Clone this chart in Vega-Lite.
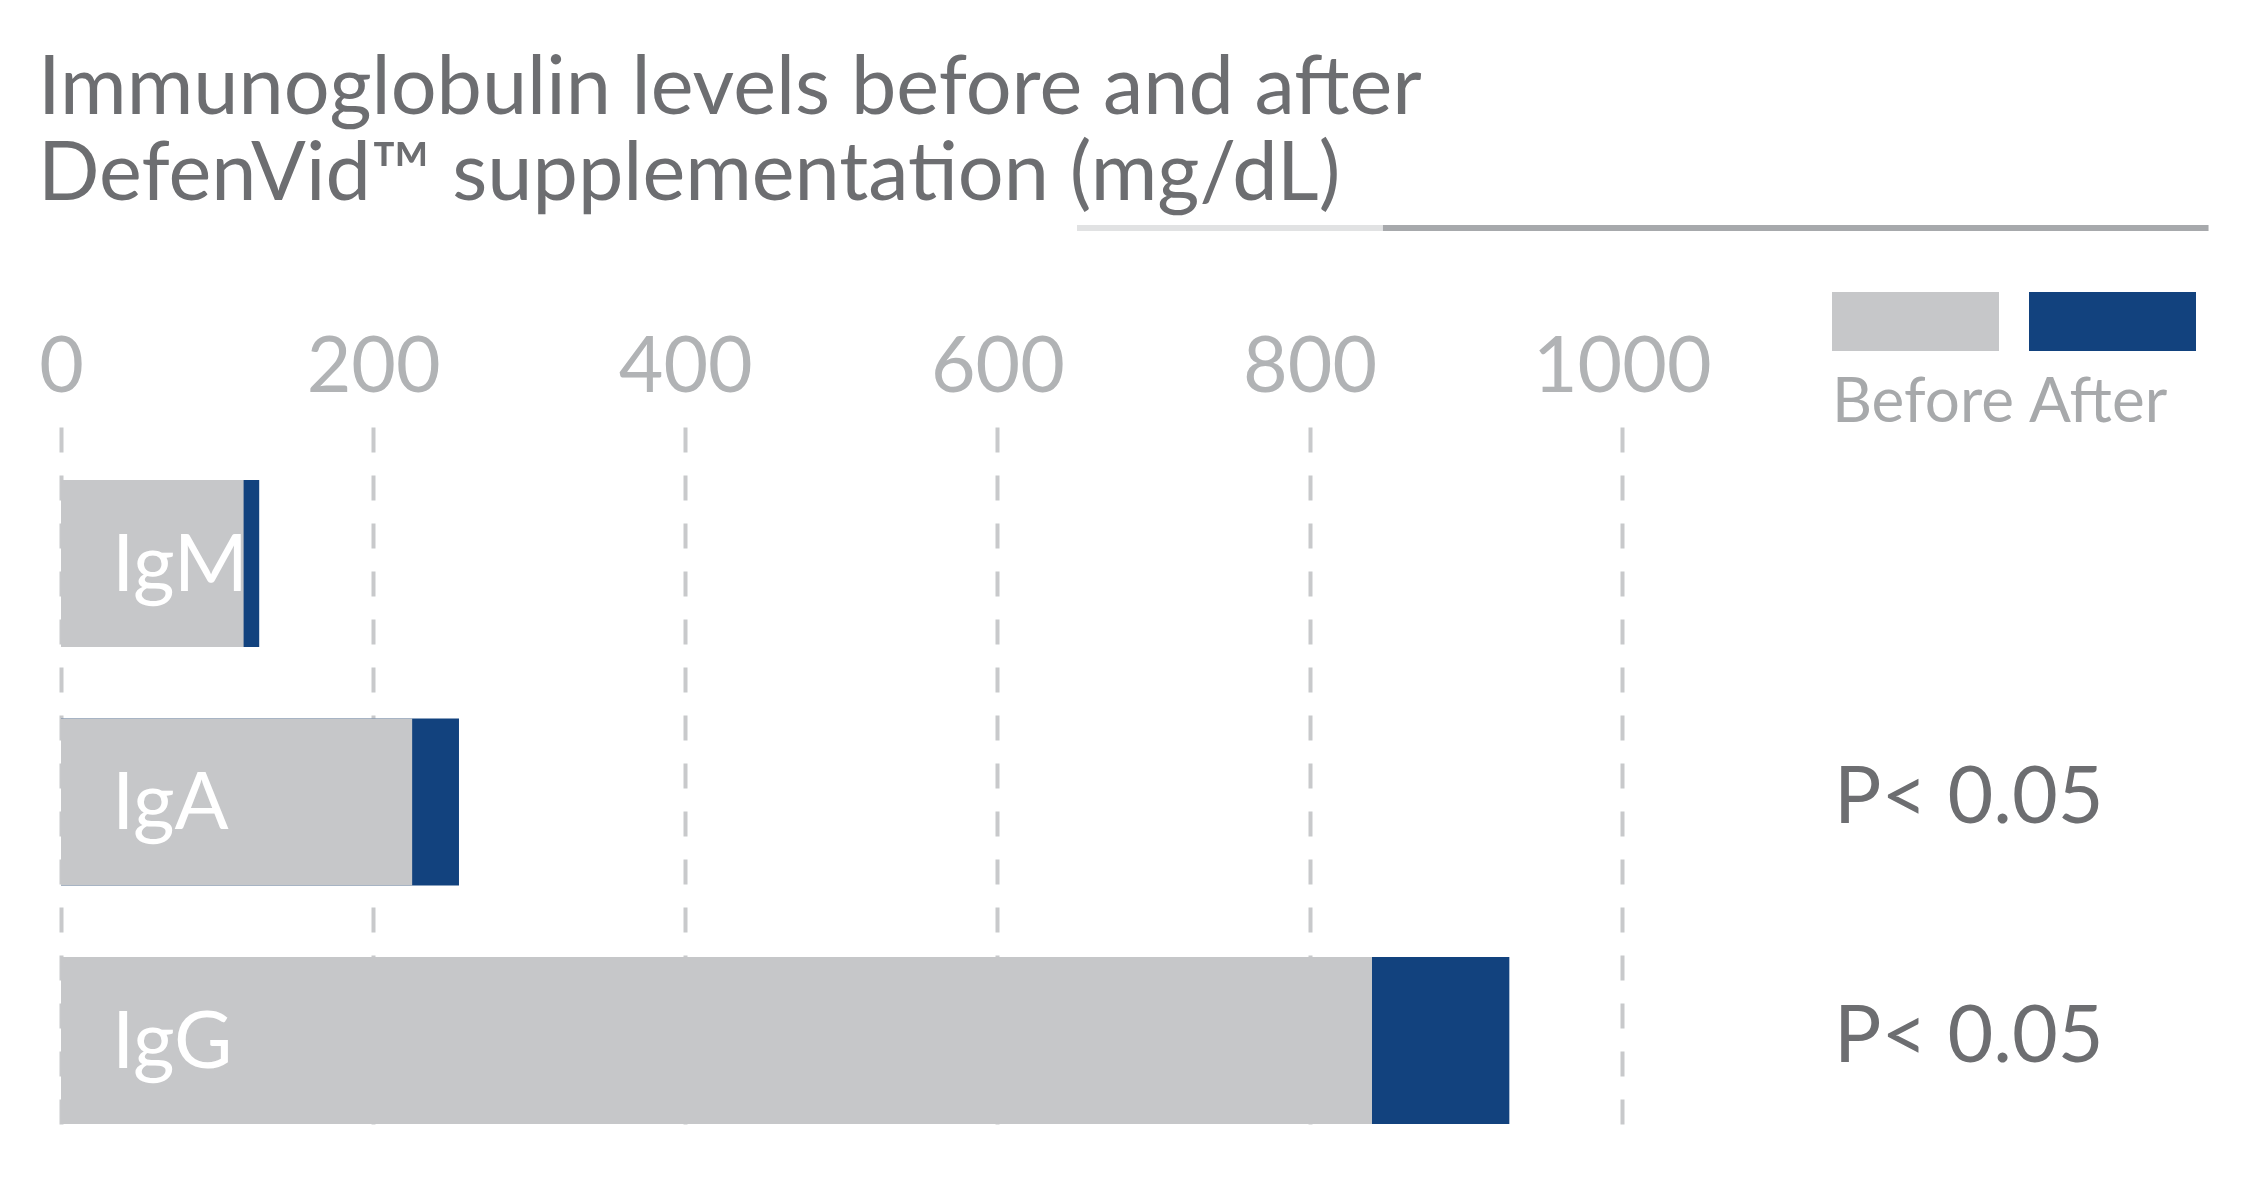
{
  "$schema": "https://vega.github.io/schema/vega-lite/v6.json",
  "background": "white",
  "padding": {"left": 38, "top": 49, "right": 10, "bottom": 10},
  "config": {"view": {"stroke": null}, "font": "Lato"},
  "title": {
    "text": ["Immunoglobulin levels before and after", "DefenVid™ supplementation (mg/dL)"],
    "anchor": "start",
    "frame": "group",
    "dx": -23,
    "fontSize": 81,
    "fontWeight": "normal",
    "font": "Lato",
    "color": "#6d6e71",
    "lineHeight": 86,
    "offset": 6
  },
  "spacing": 96,
  "vconcat": [
    {
      "width": 2185,
      "height": 10,
      "data": {"values": [{}]},
      "encoding": {
        "y": {"datum": 0, "type": "quantitative", "scale": {"domain": [-1, 1]}, "axis": null}
      },
      "layer": [
        {
          "mark": {"type": "rule", "color": "#e1e2e3", "strokeWidth": 6},
          "encoding": {
            "x": {"datum": 651, "type": "quantitative", "scale": {"domain": [0, 1400], "nice": false}, "axis": null},
            "x2": {"datum": 847}
          }
        },
        {
          "mark": {"type": "rule", "color": "#a7a9ac", "strokeWidth": 6},
          "encoding": {
            "x": {"datum": 847, "type": "quantitative"},
            "x2": {"datum": 1376}
          }
        }
      ]
    },
    {
      "width": 2185,
      "height": 700,
      "data": {
        "values": [
          {"Ig": "IgM", "period": "After", "value": 127},
          {"Ig": "IgA", "period": "After", "value": 255},
          {"Ig": "IgG", "period": "After", "value": 928},
          {"Ig": "IgM", "period": "Before", "value": 117},
          {"Ig": "IgA", "period": "Before", "value": 225},
          {"Ig": "IgG", "period": "Before", "value": 840}
        ]
      },
      "encoding": {
        "y": {
          "field": "Ig",
          "type": "nominal",
          "scale": {"domain": ["IgM", "IgA", "IgG"], "paddingInner": 0.3, "paddingOuter": 0.1176, "align": 0.946},
          "axis": null
        }
      },
      "layer": [
        {
          "mark": {"type": "bar"},
          "encoding": {
            "x": {
              "field": "value",
              "type": "quantitative",
              "stack": null,
              "scale": {"domain": [0, 1400], "nice": false},
              "axis": {
                "orient": "top",
                "values": [0, 200, 400, 600, 800, 1000],
                "format": "d",
                "grid": true,
                "gridDash": [25, 23],
                "gridColor": "#c8c9cb",
                "gridWidth": 4,
                "domain": false,
                "ticks": false,
                "tickSize": 0,
                "labelFontSize": 77,
                "labelFont": "Lato",
                "labelColor": "#b1b3b5",
                "labelPadding": 20,
                "labelFlush": false,
                "labelOverlap": false,
                "labelLimit": 400,
                "title": null
              }
            },
            "color": {
              "field": "period",
              "type": "nominal",
              "scale": {"domain": ["Before", "After"], "range": ["#c6c7c9", "#12427e"]},
              "legend": {
                "orient": "none",
                "legendX": 1771,
                "legendY": 96,
                "direction": "horizontal",
                "title": null,
                "symbolType": "M-1,-1.327H1V-0.621H-1Z",
                "symbolSize": 27889,
                "symbolStrokeWidth": 0,
                "symbolOpacity": 1,
                "labelOffset": -167,
                "labelFontSize": 62,
                "labelFont": "Lato",
                "labelColor": "#a7a9ab",
                "labelLimit": 400,
                "columnPadding": 15,
                "padding": 0
              }
            }
          }
        },
        {
          "transform": [{"filter": "datum.period === 'Before'"}],
          "mark": {"type": "text", "align": "left", "baseline": "alphabetic", "dx": 51, "dy": 27, "color": "white", "fontSize": 80, "font": "Lato"},
          "encoding": {
            "x": {"datum": 0, "type": "quantitative"},
            "text": {"field": "Ig"}
          }
        },
        {
          "data": {"values": [{"Ig": "IgA", "p": "P< 0.05"}, {"Ig": "IgG", "p": "P< 0.05"}]},
          "mark": {"type": "text", "align": "left", "baseline": "alphabetic", "dy": 21, "color": "#6d6e71", "fontSize": 79, "font": "Lato"},
          "encoding": {
            "x": {"datum": 1136, "type": "quantitative"},
            "text": {"field": "p"}
          }
        }
      ]
    }
  ]
}
